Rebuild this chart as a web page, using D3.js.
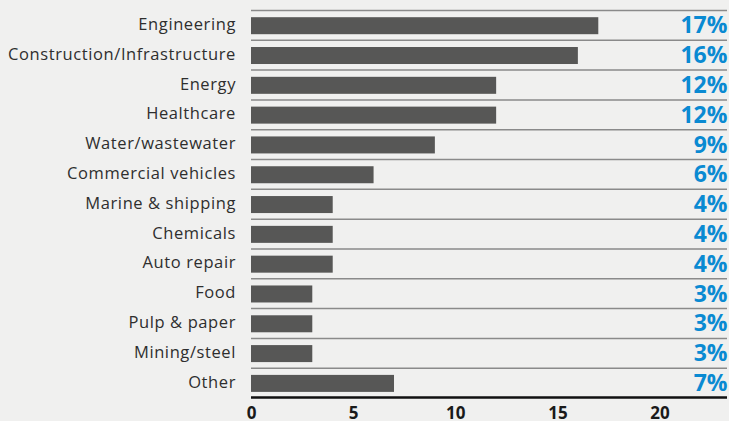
<!DOCTYPE html>
<html><head><meta charset="utf-8">
<script src="https://cdn.jsdelivr.net/npm/d3@7"></script>
<style>html,body{margin:0;padding:0;background:#f0f0ef;}svg{display:block;}</style>
</head><body>
<script>
const categories = ["Engineering","Construction/Infrastructure","Energy","Healthcare","Water/wastewater","Commercial vehicles","Marine & shipping","Chemicals","Auto repair","Food","Pulp & paper","Mining/steel","Other"];
const values = [17,16,12,12,9,6,4,4,4,3,3,3,7];
const labels = ["17%","16%","12%","12%","9%","6%","4%","4%","4%","3%","3%","3%","7%"];
const ticks = [0,5,10,15,20];

(function(){
const W=729,H=421;
const svg=d3.select("body").append("svg").attr("width",W).attr("height",H);
svg.append("rect").attr("width",W).attr("height",H).attr("fill","#f0f0ef");
const mLeft=251, mRight=727, mTop=10, mBottom=397.5;
const x=d3.scaleLinear().domain([0,23.3]).range([mLeft,mRight]);
const y=d3.scaleBand().domain(categories).range([mTop,mBottom]).paddingInner(0).paddingOuter(0);
const font="'Open Sans', 'Noto Sans', sans-serif";

// separators
svg.append("g").selectAll("line").data(categories).join("line")
 .attr("x1",mLeft).attr("x2",mRight)
 .attr("y1",d=>y(d)+0.5).attr("y2",d=>y(d)+0.5)
 .attr("stroke","#8a8a8a").attr("stroke-width",1.5);

// bars
const bh=17;
svg.append("g").selectAll("rect").data(categories).join("rect")
 .attr("x",x(0)).attr("y",d=>y(d)+y.bandwidth()/2-bh/2+0.8)
 .attr("width",(d,i)=>x(values[i])-x(0)).attr("height",bh)
 .attr("fill","#575756");

// category labels
svg.append("g").selectAll("text").data(categories).join("text")
 .attr("x",236).attr("y",d=>y(d)+y.bandwidth()/2+5)
 .attr("text-anchor","end")
 .attr("font-family",font).attr("font-size",16.5).attr("letter-spacing","0.6px").attr("fill","#2e2e2e")
 .text(d=>d);

// value labels
svg.append("g").selectAll("text").data(categories).join("text")
 .attr("x",mRight+0.5).attr("y",(d,i)=>y(d)+y.bandwidth()/2+8.5)
 .attr("text-anchor","end")
 .attr("font-family",font).attr("font-size",23).attr("font-weight","bold").attr("fill","#0a8ad2")
 .text((d,i)=>labels[i]);

// axis
const ax=svg.append("g").attr("transform",`translate(0,${mBottom})`)
 .call(d3.axisBottom(x).tickValues(ticks).tickSize(0).tickPadding(9).tickFormat(d3.format("d")));
ax.select(".domain").remove();
ax.selectAll("text").attr("font-family",font).attr("font-size",17).attr("font-weight","bold").attr("fill","#1a1a1a");
svg.append("line").attr("x1",mLeft).attr("x2",mRight).attr("y1",mBottom).attr("y2",mBottom)
 .attr("stroke","#111").attr("stroke-width",2.5);
})();
</script>
</body></html>
